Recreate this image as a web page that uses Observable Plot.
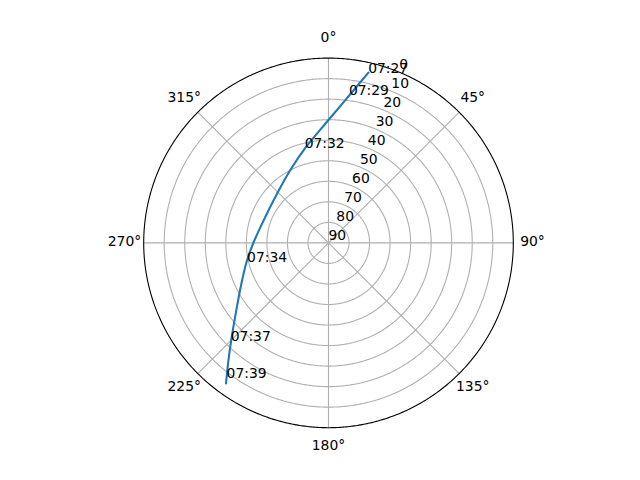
<!DOCTYPE html>
<html>
<head>
<meta charset="utf-8">
<script src="https://cdn.jsdelivr.net/npm/d3@7"></script>
<script src="https://cdn.jsdelivr.net/npm/@observablehq/plot@0.6"></script>
<style>
  html, body { margin: 0; padding: 0; background: white; }
  #chart svg { display: block; }
</style>
</head>
<body>
<div id="chart"></div>
<script>
// Satellite pass track (azimuth in degrees clockwise from north, elevation in degrees)
const azimuth   = [13.2, 8.0, 0.2, 346.0, 332.0, 313.9, 291.8, 270.3, 256.6, 243.1, 232.7, 225.7, 220.4, 216.1];
const elevation = [4.8, 17.5, 29.9, 42.6, 50.1, 55.3, 56.7, 53.5, 48.9, 42.0, 33.2, 24.1, 14.8, 5.3];

// Time labels along the track
const labelTimes = ["07:27", "07:29", "07:32", "07:34", "07:37", "07:39"];
const labelAz    = [13.2, 8.0, 346.0, 256.6, 224.7, 217.0];
const labelEl    = [4.8, 17.5, 42.6, 49.4, 22.5, 7.8];

// Axis ticks
const thetaTicks = [0, 45, 90, 135, 180, 225, 270, 315];
const rTicks     = [0, 10, 20, 30, 40, 50, 60, 70, 80, 90];
const rGrid      = [10, 20, 30, 40, 50, 60, 70, 80];
const rLabelAngle = 22.5;

const track = azimuth.map((a, i) => ({az: a, el: elevation[i]}));
const labels = labelTimes.map((t, i) => ({t, az: labelAz[i], el: labelEl[i]}));

// polar layout: azimuth clockwise from top; elevation 90 at centre
const lon = (az) => 180 - az;

const W = 640, H = 480;
const cx = 328, cy = 242.4, R = 184.8;
const projection = d3.geoAzimuthalEquidistant()
  .rotate([0, -90])
  .scale(R / (Math.PI / 2))
  .translate([cx, cy])
  .precision(0.1);

const font = "DejaVu Sans, Liberation Sans, sans-serif";
const fs = 13.9;

const chart = Plot.plot({
  width: W,
  height: H,
  margin: 0,
  projection,
  style: {background: "white", fontFamily: font, fontSize: `${fs}px`, color: "black"},
  marks: [
    // grid circles
    Plot.geo(rGrid, {
      geometry: (el) => d3.geoCircle().center([0, 90]).radius(90 - el).precision(0.5)(),
      fill: "none", stroke: "#b0b0b0", strokeWidth: 1.1
    }),
    // radial spokes
    Plot.link(thetaTicks, {
      x1: (t) => lon(t), y1: 90, x2: (t) => lon(t), y2: 0,
      stroke: "#b0b0b0", strokeWidth: 1.1
    }),
    // outer spine
    Plot.geo([0], {
      geometry: (el) => d3.geoCircle().center([0, 90]).radius(90 - el).precision(0.5)(),
      fill: "none", stroke: "black", strokeWidth: 1.1
    }),
    // track
    Plot.line(track, {
      x: (d) => lon(d.az), y: "el",
      curve: "catmull-rom",
      stroke: "#1f77b4", strokeWidth: 2.08
    }),
    // time labels
    Plot.text(labels, {
      x: (d) => lon(d.az), y: "el", text: "t",
      textAnchor: "start", lineAnchor: "bottom", dx: -0.3,
      fontSize: fs, fill: "black"
    }),
    // radial tick labels
    Plot.text(rTicks, {
      x: lon(rLabelAngle), y: (r) => r, text: (r) => String(r),
      textAnchor: "start", lineAnchor: "bottom", dy: -3,
      fontSize: fs, fill: "black"
    }),
    // angular tick labels
    Plot.text(thetaTicks, {
      x: (t) => lon(t), y: -9.35, text: (t) => `${t}°`,
      textAnchor: "middle", lineAnchor: "middle", dy: -1,
      fontSize: fs, fill: "black"
    })
  ]
});

document.getElementById("chart").appendChild(chart);
</script>
</body>
</html>
